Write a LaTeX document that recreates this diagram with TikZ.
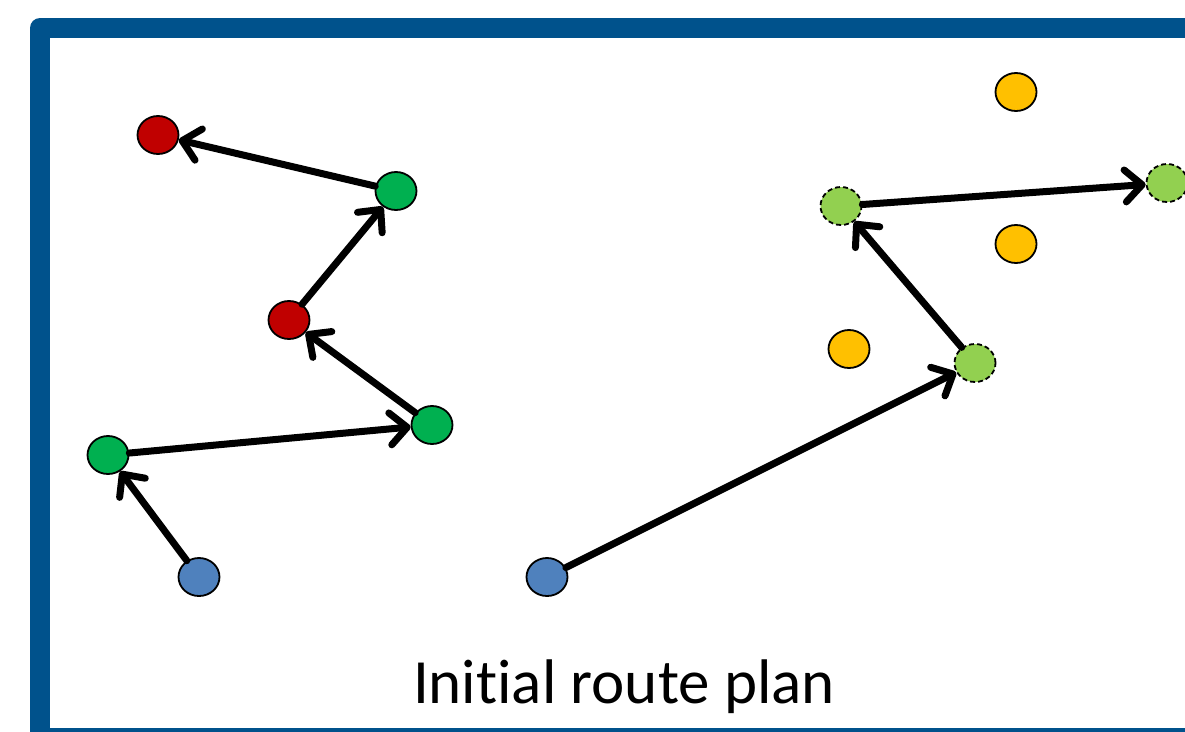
\documentclass[tikz,border=0pt]{standalone}
\usepackage{fontspec}
\setmainfont{Carlito}[RawFeature=-liga]
\usetikzlibrary{arrows.meta,shapes.geometric}
\definecolor{frameblue}{RGB}{0,82,140}
\definecolor{cred}{RGB}{192,0,0}
\definecolor{cgreen}{RGB}{0,176,80}
\definecolor{cblue}{RGB}{79,129,189}
\definecolor{clgreen}{RGB}{146,208,80}
\definecolor{cyellow}{RGB}{255,192,0}
\tikzset{
  x=1pt,y=-1pt,
  stop/.style={ellipse,draw=black,line width=1.8pt,minimum width=41pt,minimum height=38pt,inner sep=0pt},
  redstop/.style={stop,fill=cred},
  greenstop/.style={stop,fill=cgreen},
  bluestop/.style={stop,fill=cblue},
  lgstop/.style={stop,fill=clgreen,dashed,dash pattern=on 5pt off 3pt},
  ystop/.style={stop,fill=cyellow},
  route/.style={line width=7pt,-{Straight Barb[length=17pt,width=32pt,line cap=round,line join=round]},line cap=round}
}
\begin{document}
\begin{tikzpicture}
\clip (0,0) rectangle (1185,731);
\fill[white] (0,0) rectangle (1185,731);
\draw[frameblue,line width=20pt,line join=round] (40,28) rectangle (1230,738);
% left route
\node[redstop] (r1) at (158,135) {};
\node[greenstop] (g1) at (396,191) {};
\node[redstop] (r2) at (289,320) {};
\node[greenstop] (g2) at (432,425) {};
\node[greenstop] (g3) at (108,455) {};
\node[bluestop] (b1) at (199,577) {};
% right route
\node[bluestop] (b2) at (547,577) {};
\node[lgstop] (l3) at (975,363) {};
\node[lgstop] (l1) at (841,206) {};
\node[lgstop] (l2) at (1167,183) {};
\node[ystop] (y1) at (1016,92) {};
\node[ystop] (y2) at (1016,244) {};
\node[ystop] (y3) at (849,349) {};
\draw[route] (b1) -- (g3);
\draw[route] (g3) -- (g2);
\draw[route] (g2) -- (r2);
\draw[route] (r2) -- (g1);
\draw[route] (g1) -- (r1);
\draw[route] (b2) -- (l3);
\draw[route] (l3) -- (l1);
\draw[route] (l1) -- (l2);
\node[anchor=base,font=\fontsize{63}{70}\selectfont,inner sep=0pt] (title) at (624,703) {Initial route plan};
\end{tikzpicture}
\end{document}
